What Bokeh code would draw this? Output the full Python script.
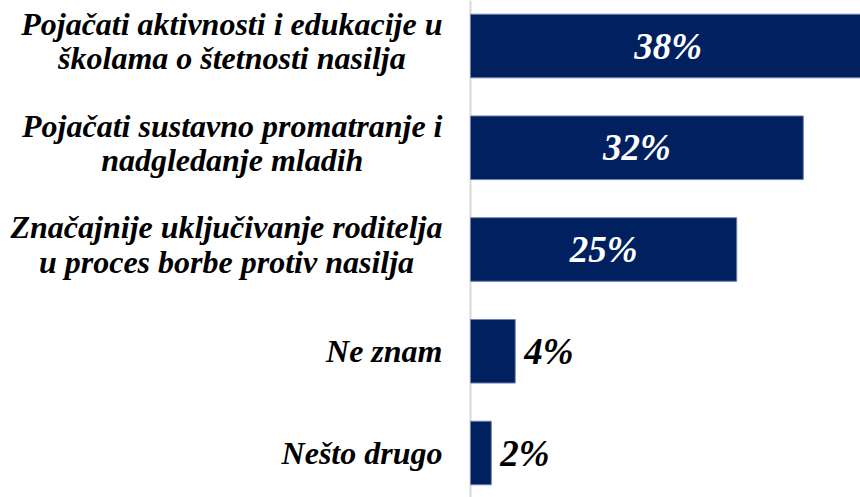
from bokeh.plotting import figure
from bokeh.models import Range1d, Span, ColumnDataSource
from bokeh.core.properties import value
from bokeh.embed import file_html
from bokeh.resources import INLINE

# ---- data ----
categories = [
    "Pojačati aktivnosti i edukacije u\nškolama o štetnosti nasilja",
    "Pojačati sustavno promatranje i\nnadgledanje mladih",
    "Značajnije uključivanje roditelja\nu proces borbe protiv nasilja",
    "Ne znam",
    "Nešto drugo",
]
values = [38.0, 32.0, 25.6, 4.3, 2.0]
value_labels = ["38%", "32%", "25%", "4%", "2%"]

# ---- layout ----
W, H = 860, 497
px_per_unit = 10.4
zero_px = 470
pitch = 101.75
first_px = 45.5
n = len(categories)
x_start = -zero_px / px_per_unit
x_end = (W - zero_px) / px_per_unit
y_top = -first_px / pitch
y_bottom = (n - 1) + (H - first_px - (n - 1) * pitch) / pitch

FONT = value("'Liberation Serif', 'Times New Roman', Times, serif")
NAVY = "#002060"

p = figure(width=W, height=H, x_range=Range1d(x_start, x_end),
           y_range=Range1d(y_bottom, y_top), output_backend="svg",
           toolbar_location=None, min_border=0)
p.axis.visible = False
p.grid.visible = False
p.outline_line_color = None
p.background_fill_color = "white"
p.border_fill_color = "white"

p.add_layout(Span(location=0, dimension="height", line_color="#D9D9D9",
                  line_width=2, level="underlay"))

ys = list(range(n))
src = ColumnDataSource(dict(y=ys, v=values, lab=value_labels, cat=categories,
                            yoff=[-5 if "\n" in c else 0 for c in categories]))
p.hbar(y="y", left=0, right="v", height=0.625, source=src,
       fill_color=NAVY, line_color="#6F83AE", line_width=1)

inside = [i for i, v in enumerate(values) if v > 10]
outside = [i for i, v in enumerate(values) if v <= 10]

src_in = ColumnDataSource(dict(x=[values[i] / 2 for i in inside],
                               y=[ys[i] for i in inside],
                               t=[value_labels[i] for i in inside]))
p.text(x="x", y="y", text="t", source=src_in, text_align="center",
       text_baseline="middle", text_color="white", text_font=FONT,
       text_font_style="bold italic", text_font_size="37px")

src_out = ColumnDataSource(dict(x=[values[i] for i in outside],
                                y=[ys[i] for i in outside],
                                t=[value_labels[i] for i in outside]))
p.text(x="x", y="y", text="t", source=src_out, x_offset=9, text_align="left",
       text_baseline="middle", text_color="black", text_font=FONT,
       text_font_style="bold italic", text_font_size="37px")

p.text(x=0, y="y", text="cat", source=src, x_offset=-28, y_offset="yoff",
       anchor="center_right", text_align="center", text_baseline="middle",
       text_color="black", text_font=FONT, text_font_style="bold italic",
       text_font_size="32px", text_line_height=0.95)

open("out.html", "w").write(file_html(p, INLINE))
